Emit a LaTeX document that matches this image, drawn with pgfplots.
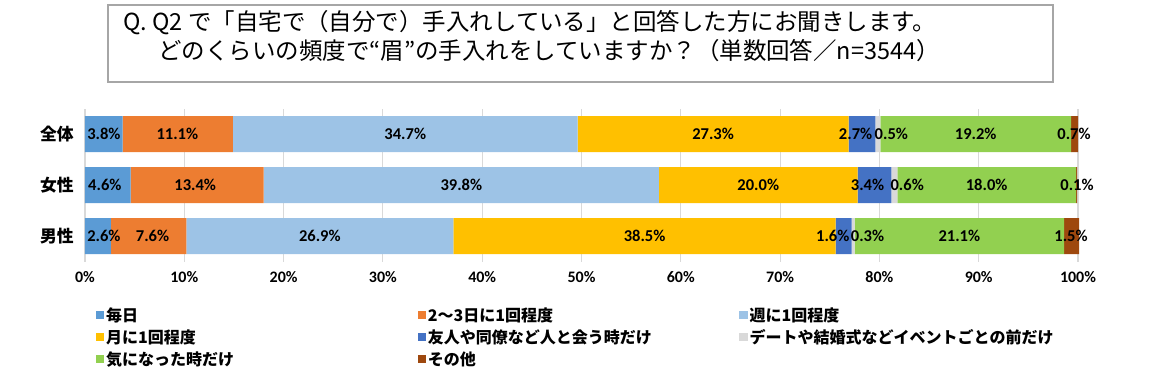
\documentclass[border=0pt]{standalone}
\usepackage{pgfplots}
\pgfplotsset{compat=1.18}
\usepackage{pgfplotstable}
\usepackage{fontspec}
\newfontfamily\jp{Noto Sans CJK JP}
\newfontfamily\carl{Carlito}
\definecolor{c1}{HTML}{5B9BD5}
\definecolor{c2}{HTML}{ED7D31}
\definecolor{c3}{HTML}{9DC3E6}
\definecolor{c4}{HTML}{FFC000}
\definecolor{c5}{HTML}{4472C4}
\definecolor{c6}{HTML}{D9D9D9}
\definecolor{c7}{HTML}{92D050}
\definecolor{c8}{HTML}{9E480E}
\definecolor{gridc}{HTML}{D9D9D9}
\definecolor{boxc}{HTML}{A6A6A6}

\pgfplotstableread{
cat a b c d e f g h
2 3.8 11.1 34.7 27.3 2.7 0.5 19.2 0.7
1 4.6 13.4 39.8 20.0 3.4 0.6 18.0 0.1
0 2.6 7.6 26.9 38.5 1.6 0.3 21.1 1.5
}\data

\pgfplotstableread{
x y lab
1.9 2 3.8
9.3 2 11.1
32.25 2 34.7
63.25 2 27.3
77.6 2 2.7
81.2 2 0.5
89.7 2 19.2
99.6 2 0.7
2.0 1 4.6
11.1 1 13.4
37.9 1 39.8
67.8 1 20.0
78.8 1 3.4
82.8 1 0.6
90.8 1 18.0
99.9 1 0.1
1.9 0 2.6
6.8 0 7.6
23.65 0 26.9
56.35 0 38.5
75.3 0 1.6
78.8 0 0.3
88.05 0 21.1
99.3 0 1.5
}\labels

\pgfplotsset{
  common/.style={
    scale only axis,
    width=744.75pt, height=114.75pt,
    xmin=0, xmax=100, ymin=-0.5, ymax=2.5,
    at={(85*0.75pt,-261.5*0.75pt)}, anchor=south west,
    clip=false,
  }
}

\begin{document}
\begin{tikzpicture}
\path[use as bounding box] (0,0) rectangle (1172*0.75pt,-378*0.75pt);
% title box
\draw[boxc, line width=1.3pt] (108*0.75pt,-5*0.75pt) rectangle (1053*0.75pt,-82*0.75pt);
\node[anchor=west, inner sep=0pt] at (123*0.75pt,-23*0.75pt) {\jp\fontsize{17.6}{19}\selectfont Q. Q2 で「自宅で（自分で）手入れしている」と回答した方にお聞きします。};
\node[anchor=west, inner sep=0pt] at (158*0.75pt,-51*0.75pt) {\jp\fontsize{17.6}{19}\selectfont どのくらいの頻度で“眉”の手入れをしていますか？（単数回答／n=3544）};

\begin{axis}[common,
  xbar stacked, bar width=27pt,
  axis line style={draw=none},
  major tick length=0pt,
  xmajorgrids, grid style={gridc, line width=0.8pt},
  xtick={0,10,...,100},
  xticklabels={0\%,10\%,20\%,30\%,40\%,50\%,60\%,70\%,80\%,90\%,100\%},
  xticklabel style={font=\carl\bfseries\fontsize{12}{13}\selectfont, yshift=-4pt},
  ytick={0,1,2}, yticklabels={男性,女性,全体},
  yticklabel style={font=\jp\bfseries\fontsize{12.6}{14}\selectfont, xshift=-5pt},
  legend columns=3,
  legend style={at={(axis description cs:0,0)}, anchor=north west, xshift=8pt, yshift=-33pt,
    draw=none, fill=none, inner sep=0pt, row sep=2pt,
    font=\jp\bfseries\fontsize{12}{13}\selectfont,
    nodes={inner sep=1.3pt}},
  legend cell align=left,
  legend image code/.code={\fill[#1] (0pt,-3pt) rectangle (6.4pt,3pt);},
]
\addplot[fill=c1, draw=none] table[x=a, y=cat]{\data};
\addlegendentry{\makebox[232.3pt][l]{毎日}}
\addplot[fill=c2, draw=none] table[x=b, y=cat]{\data};
\addlegendentry{\makebox[232.3pt][l]{2〜3日に1回程度}}
\addplot[fill=c3, draw=none] table[x=c, y=cat]{\data};
\addlegendentry{\makebox[232.3pt][l]{週に1回程度}}
\addplot[fill=c4, draw=none] table[x=d, y=cat]{\data};
\addlegendentry{\makebox[232.3pt][l]{月に1回程度}}
\addplot[fill=c5, draw=none] table[x=e, y=cat]{\data};
\addlegendentry{\makebox[232.3pt][l]{友人や同僚など人と会う時だけ}}
\addplot[fill=c6, draw=none] table[x=f, y=cat]{\data};
\addlegendentry{\makebox[232.3pt][l]{デートや結婚式などイベントごとの前だけ}}
\addplot[fill=c7, draw=none] table[x=g, y=cat]{\data};
\addlegendentry{\makebox[232.3pt][l]{気になった時だけ}}
\addplot[fill=c8, draw=none] table[x=h, y=cat]{\data};
\addlegendentry{\makebox[232.3pt][l]{その他}}
\end{axis}

\begin{axis}[common, hide axis]
\addplot[draw=none, mark=none, nodes near coords={\pgfplotspointmeta\%},
  point meta=explicit symbolic,
  every node near coord/.append style={anchor=center, inner sep=0pt, font=\carl\bfseries\fontsize{12.4}{14}\selectfont}]
  table[x=x, y=y, meta=lab]{\labels};
\end{axis}
\end{tikzpicture}
\end{document}
